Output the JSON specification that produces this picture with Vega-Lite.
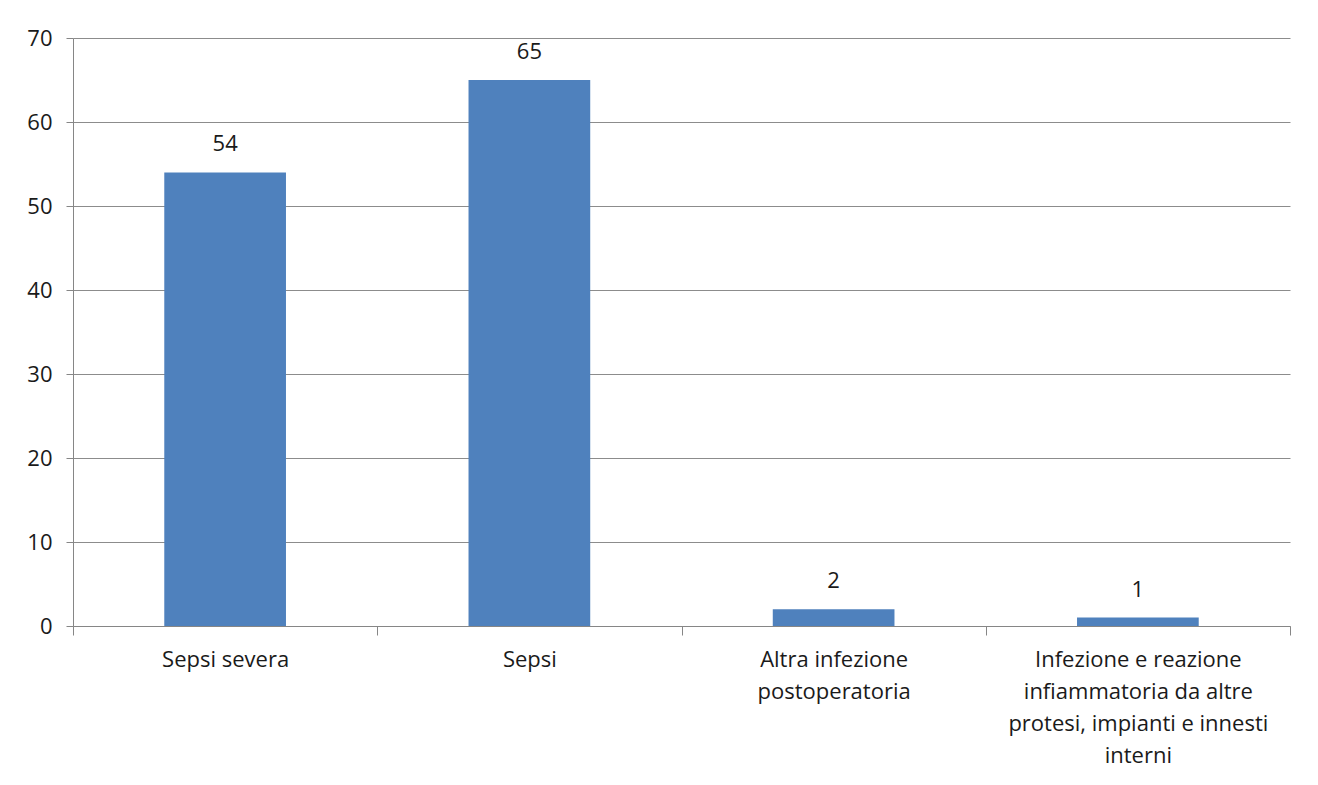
{
  "$schema": "https://vega.github.io/schema/vega-lite/v6.json",
  "autosize": {"type": "none"},
  "padding": {"left": 73, "top": 38, "right": 28, "bottom": 159},
  "width": 1217,
  "height": 588,
  "background": "white",
  "config": {
    "view": {"stroke": null},
    "font": "Open Sans",
    "axis": {"labelFont": "Open Sans", "labelColor": "#1a1a1a", "domainColor": "#868686", "tickColor": "#868686"}
  },
  "data": {
    "values": [
      {"categoria": "Sepsi severa", "valore": 54},
      {"categoria": "Sepsi", "valore": 65},
      {"categoria": "Altra infezione postoperatoria", "valore": 2},
      {"categoria": "Infezione e reazione infiammatoria da altre protesi, impianti e innesti interni", "valore": 1}
    ]
  },
  "encoding": {
    "x": {
      "field": "categoria",
      "type": "nominal",
      "sort": null,
      "scale": {"paddingInner": 0, "paddingOuter": 0},
      "axis": {
        "title": null,
        "labelAngle": 0,
        "labelFontSize": 22,
        "labelLineHeight": 32,
        "labelPadding": 14,
        "labelBaseline": "top",
        "tickBand": "extent",
        "tickSize": 9,
        "labelLimit": 400,
        "labelExpr": "datum.value === 'Altra infezione postoperatoria' ? ['Altra infezione', 'postoperatoria'] : datum.value === 'Infezione e reazione infiammatoria da altre protesi, impianti e innesti interni' ? ['Infezione e reazione', 'infiammatoria da altre', 'protesi, impianti e innesti', 'interni'] : datum.value"
      }
    },
    "y": {
      "field": "valore",
      "type": "quantitative",
      "scale": {"domain": [0, 70], "nice": false},
      "axis": {
        "title": null,
        "values": [0, 10, 20, 30, 40, 50, 60, 70],
        "labelFontSize": 22,
        "labelPadding": 14,
        "tickSize": 7,
        "gridColor": "#8c8c8c",
        "gridWidth": 1
      }
    }
  },
  "layer": [
    {
      "mark": {"type": "bar", "color": "#4F81BD", "width": {"band": 0.4}}
    },
    {
      "mark": {"type": "text", "dy": -28, "fontSize": 22, "color": "#1a1a1a", "font": "Open Sans"},
      "encoding": {"text": {"field": "valore", "type": "quantitative"}}
    }
  ]
}
